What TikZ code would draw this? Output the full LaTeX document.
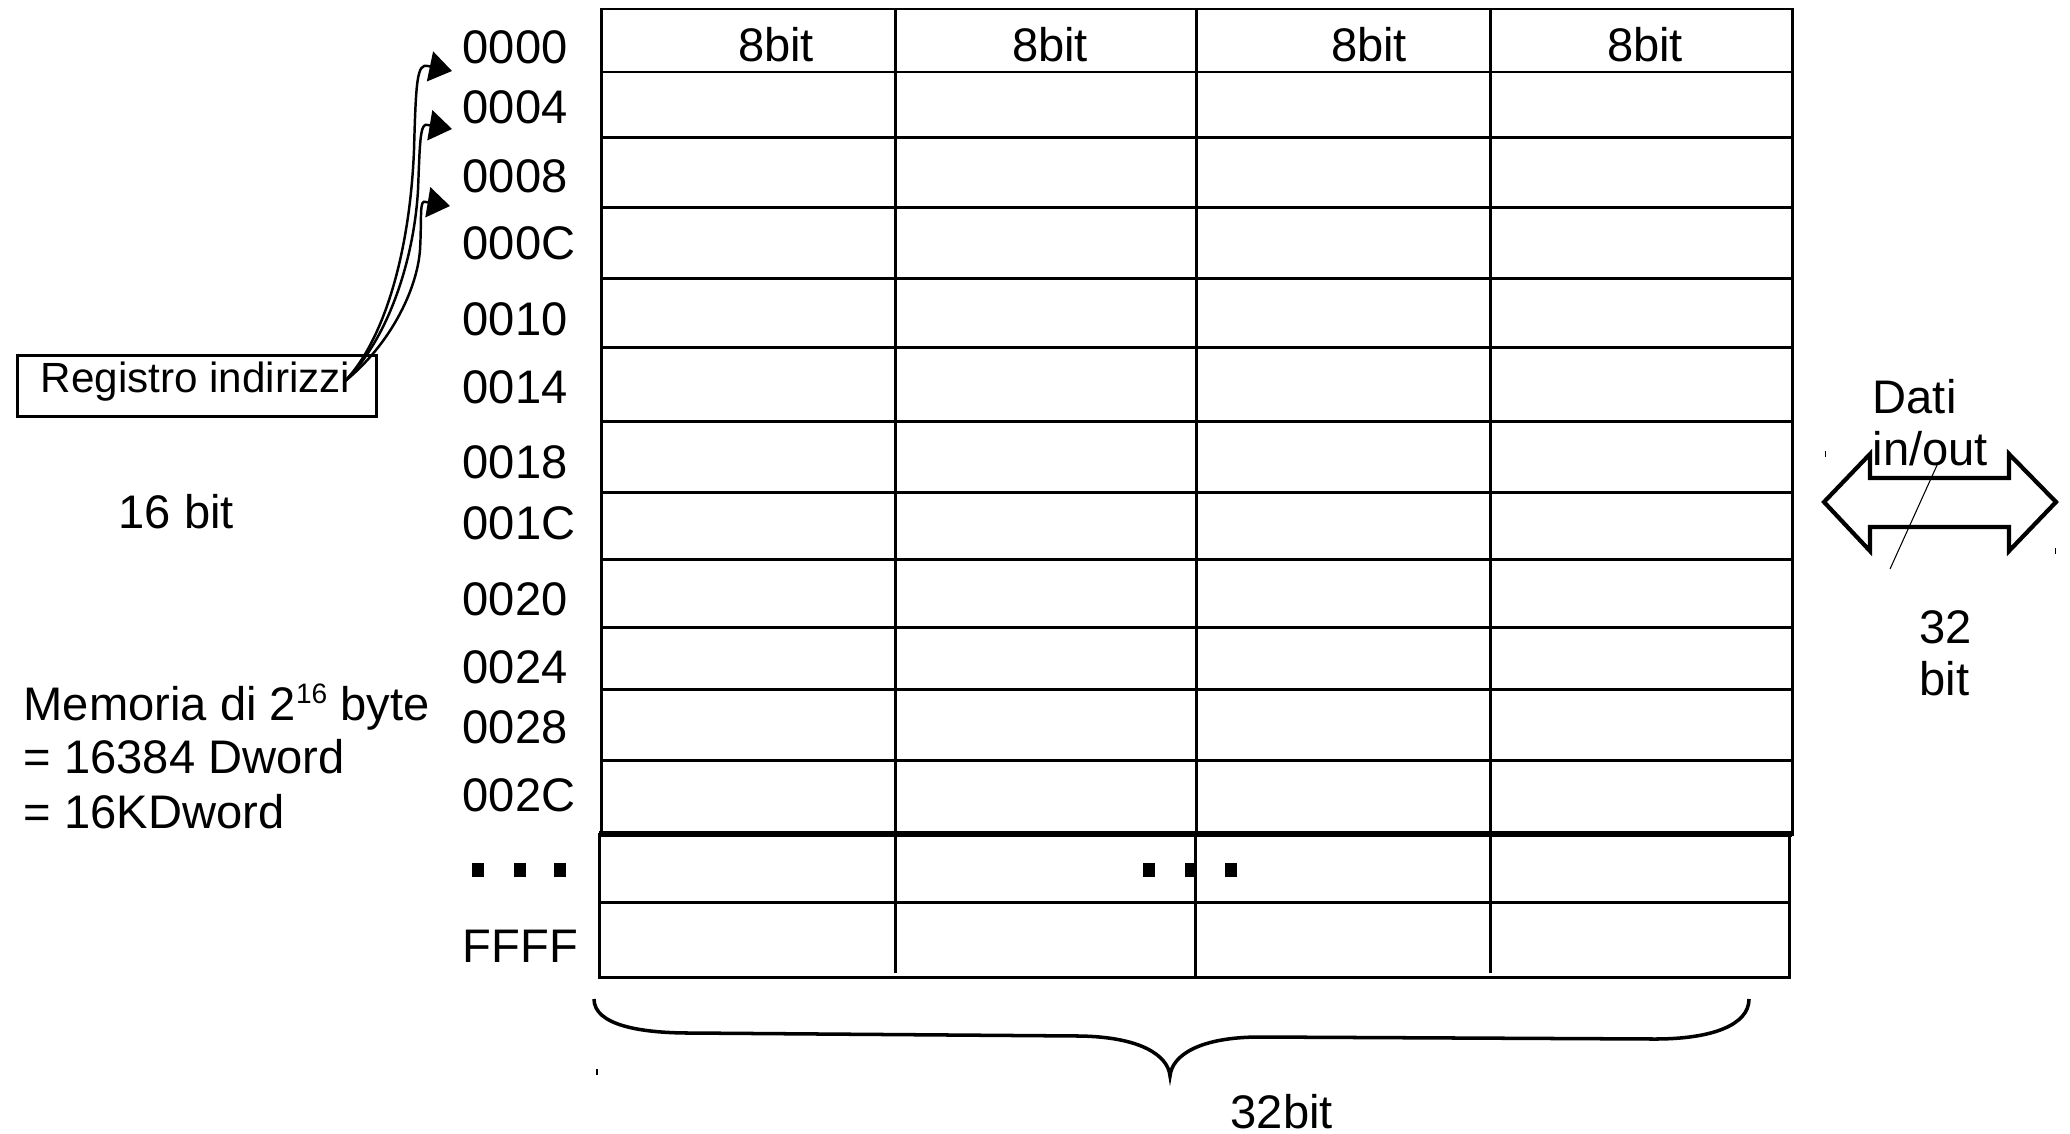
\documentclass[tikz,border=0pt]{standalone}
\usepackage{fontspec}
\setmainfont{Liberation Sans}
\usetikzlibrary{arrows.meta}
\begin{document}
\begin{tikzpicture}[x=0.01cm,y=-0.01cm,
  lbl/.style={anchor=base west,inner sep=0pt,font=\fontsize{13.4}{16}\selectfont},
  clbl/.style={lbl,anchor=base},
  gridline/.style={line width=0.85pt},
  sepline/.style={line width=1.6pt},
  conn/.style={line width=0.7pt,-{Triangle[length=6.4pt,width=8.6pt]}},
  dotsq/.style={fill=black},
  brace/.style={line width=1pt},
  bigarrow/.style={line width=1.2pt,line join=miter},
  tick/.style={line width=0.3pt}]
\useasboundingbox (0,0) rectangle (2070,1133);

% ---- memory grid (upper part)
\draw[gridline] (601,9) rectangle (1792,834);
\foreach \y in {72,137,207,278,347,421,492,559,627,689,760}
  \draw[gridline] (601,\y) -- (1792,\y);
\foreach \x in {895,1196,1490}
  \draw[gridline] (\x,9) -- (\x,834);
% ---- lower part
\draw[gridline] (599,834) rectangle (1789,977);
\draw[gridline] (599,902) -- (1789,902);
\draw[gridline] (895,834) -- (895,973);
\draw[gridline] (1195,834) -- (1195,977);
\draw[gridline] (1490,834) -- (1490,973);
\draw[sepline] (599,834) -- (1792,834);

% ---- column headers
\node[clbl] (h1) at (776,61) {8bit};
\node[clbl] (h2) at (1050,61) {8bit};
\node[clbl] (h3) at (1369,61) {8bit};
\node[clbl] (h4) at (1645,61) {8bit};

% ---- addresses
\node[lbl] (a00) at (462,63) {0000};
\node[lbl] (a04) at (462,123) {0004};
\node[lbl] (a08) at (462,192) {0008};
\node[lbl] (a0C) at (462,259) {000C};
\node[lbl] (a10) at (462,335) {0010};
\node[lbl] (a14) at (462,403) {0014};
\node[lbl] (a18) at (462,478) {0018};
\node[lbl] (a1C) at (462,539) {001C};
\node[lbl] (a20) at (462,615) {0020};
\node[lbl] (a24) at (462,683) {0024};
\node[lbl] (a28) at (462,743) {0028};
\node[lbl] (a2C) at (462,811) {002C};
\node[lbl] (aFF) at (462,962) {FFFF};

% ---- ellipsis dots
\foreach \x in {478,520,560,1149,1191,1231}
  \fill[dotsq] (\x-6,863) rectangle (\x+6,877);

% ---- address register
\node[draw,line width=0.85pt,minimum width=3.58cm,minimum height=0.6cm,inner sep=0pt] (reg) at (197,386) {};
\node[anchor=base west,inner sep=0pt,font=\fontsize{12}{14}\selectfont] (regtxt) at (40,392) {Registro indirizzi};
\coordinate (rout) at (344,382);
\coordinate (t1) at (452,71);
\coordinate (t2) at (452,129);
\coordinate (t3) at (450,206);
\draw[conn] (rout) .. controls (385,340) and (410,250) .. (414,150) .. controls (416,80) and (417,63) .. (428,66) -- (t1);
\draw[conn] (rout) .. controls (388,340) and (414,260) .. (418,190) .. controls (420,140) and (420,122) .. (428,125) -- (t2);
\draw[conn] (rout) .. controls (390,345) and (417,290) .. (420,250) .. controls (422,215) and (419,199) .. (426,202) -- (t3);

\node[lbl] (b16) at (118,528) {16 bit};
\node[lbl] (m1) at (23,720) {Memoria di 2\raisebox{4.8pt}{\fontsize{8}{9}\selectfont 16} byte};
\node[lbl] (m2) at (23,773) {= 16384 Dword};
\node[lbl] (m3) at (23,828) {= 16KDword};

% ---- data bus
\draw[bigarrow] (1824,502) -- (1870,454) -- (1870,478) -- (2009,478) -- (2009,454)
  -- (2056,502) -- (2009,551) -- (2009,527) -- (1870,527) -- (1870,551) -- cycle;
\draw[line width=0.3pt] (1938,463) -- (1890,569);
\node[lbl] (dati) at (1872,413) {Dati};
\node[lbl] (inout) at (1872,465) {in/out};
\node[lbl] (n32) at (1919,643) {32};
\node[lbl] (nbit) at (1919,695) {bit};
\draw[tick] (1825,451) -- (1825,457);
\draw[tick] (2055,548) -- (2055,554);

% ---- brace
\draw[brace] (594,999) .. controls (594,1025) and (640,1033) .. (690,1033)
  -- (1080,1036) .. controls (1140,1037) and (1168,1055) .. (1170,1076)
  .. controls (1172,1055) and (1200,1037) .. (1260,1037)
  -- (1655,1039) .. controls (1712,1039) and (1749,1025) .. (1749,999);
\draw[tick] (597,1069) -- (597,1075);
\node[lbl] (w32) at (1230,1128) {32bit};
\end{tikzpicture}
\end{document}
